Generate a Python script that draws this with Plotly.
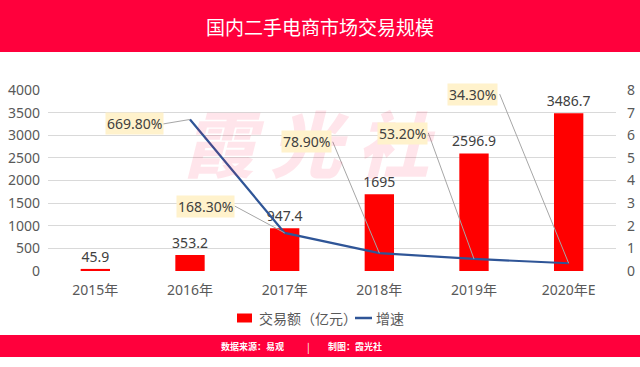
import plotly.graph_objects as go

# ---- data ----
years = ["2015年", "2016年", "2017年", "2018年", "2019年", "2020年E"]
volume = [45.9, 353.2, 947.4, 1695, 2596.9, 3486.7]          # 交易额（亿元）
growth = [None, 6.698, 1.683, 0.789, 0.532, 0.343]            # 增速 (ratio)
growth_labels = [None, "669.80%", "168.30%", "78.90%", "53.20%", "34.30%"]
volume_labels = ["45.9", "353.2", "947.4", "1695", "2596.9", "3486.7"]
series_names = ["交易额（亿元）", "增速"]

# ---- styling / layout constants ----
RED_BANNER = "#FF003C"
BAR_RED = "#FF0000"
LINE_BLUE = "#2F5597"
TXT = "#595959"
FONT = "Noto Sans, Noto Sans CJK SC"
CJK = "Noto Sans CJK SC"
W, H = 640, 367
L, R, T, B = 48, 24, 90, 96
PW, PH = W - L - R, H - T - B

# callout offsets in pixels (box centre / leader start relative to the point), y up positive
label_offsets = {
    1: (-55.5, -4.0, -27.0, -4.5),
    2: (-79.0, 26.6, -50.0, 26.9),
    3: (-72.6, 111.4, -46.6, 111.4),
    4: (-71.5, 125.7, -45.7, 126.0),
    5: (-96.0, 169.0, -69.0, 169.2),
}

fig = go.Figure()
fig.add_trace(go.Bar(
    x=list(range(len(years))), y=volume, name=series_names[0],
    marker=dict(color=BAR_RED, line=dict(width=0)), width=0.31,
    text=volume_labels, textposition="outside", cliponaxis=False, constraintext="none",
    textfont=dict(family=FONT, size=14, color="#404040"), showlegend=False,
))
fig.add_trace(go.Scatter(
    x=list(range(len(years))), y=growth, name=series_names[1], yaxis="y2",
    mode="lines", line=dict(color=LINE_BLUE, width=2.2), connectgaps=False, showlegend=False,
))

shapes = []
annotations = []

px2x = lambda p: (p - L) / PW
px2y = lambda p: (H - B - p) / PH


def paper_text(text, px, py, size, color, family=CJK, xanchor="center", **kw):
    annotations.append(dict(text=text, xref="paper", yref="paper", x=px2x(px), y=px2y(py),
                            xanchor=xanchor, yanchor="middle", showarrow=False,
                            font=dict(family=family, size=size, color=color, **kw)))


# banners
shapes.append(dict(type="rect", xref="paper", yref="paper", x0=px2x(0), x1=px2x(W),
                   y0=px2y(52), y1=px2y(0), fillcolor=RED_BANNER, line=dict(width=0), layer="below"))
shapes.append(dict(type="rect", xref="paper", yref="paper", x0=px2x(0), x1=px2x(W),
                   y0=px2y(357), y1=px2y(335), fillcolor=RED_BANNER, line=dict(width=0), layer="below"))

paper_text("国内二手电商市场交易规模", 320, 26, 19, "white")
paper_text("<b>数据来源：易观</b>", 252, 346, 9, "white")
paper_text("|", 308, 346, 10, "white")
paper_text("<b>制图：霞光社</b>", 355, 346, 9, "white")

# watermark
for ch, cx in zip("霞光社", [224, 310, 396]):
    paper_text(ch, cx, 140, 72, "rgba(255,0,60,0.10)", style="italic", weight=900)

# manual legend
shapes.append(dict(type="rect", xref="paper", yref="paper", x0=px2x(237), x1=px2x(252),
                   y0=px2y(322.5), y1=px2y(313.5), fillcolor=BAR_RED, line=dict(width=0)))
paper_text(series_names[0], 257, 318, 14, TXT, xanchor="left")
shapes.append(dict(type="line", xref="paper", yref="paper", x0=px2x(355), x1=px2x(372),
                   y0=px2y(318), y1=px2y(318), line=dict(color=LINE_BLUE, width=2.5)))
paper_text(series_names[1], 374, 318, 14, TXT, xanchor="left")

# growth callouts
for i, lab in enumerate(growth_labels):
    if lab is None:
        continue
    bx, by, sx, sy = label_offsets[i]
    annotations.append(dict(text=lab, x=i, y=growth[i], xref="x", yref="y2",
                            xanchor="center", yanchor="middle",
                            showarrow=False, xshift=bx, yshift=by,
                            bgcolor="#FFF2CC", borderpad=1,
                            font=dict(family=FONT, size=14, color="#404040")))
    shapes.append(dict(type="line", xref="x", yref="y2",
                       xsizemode="pixel", ysizemode="pixel",
                       xanchor=i, yanchor=growth[i],
                       x0=sx, y0=sy, x1=0, y1=0,
                       line=dict(color="#A6A6A6", width=1)))

fig.update_layout(
    width=W, height=H, margin=dict(l=L, r=R, t=T, b=B, autoexpand=False),
    paper_bgcolor="white", plot_bgcolor="white",
    font=dict(family=FONT, size=14, color=TXT),
    showlegend=False,
    xaxis=dict(tickmode="array", tickvals=list(range(len(years))), ticktext=years,
               range=[-0.5, len(years) - 0.5], showgrid=False, zeroline=False,
               showline=False, ticks="", ticklabelstandoff=9, automargin=False,
               tickfont=dict(family=FONT, size=14, color=TXT)),
    yaxis=dict(range=[0, 4000], dtick=500, showgrid=True, gridcolor="#D9D9D9", gridwidth=1,
               zeroline=False, showline=False, ticks="", ticklabelstandoff=7, automargin=False,
               tickfont=dict(size=14, color=TXT)),
    yaxis2=dict(range=[0, 8], dtick=1, overlaying="y", side="right", showgrid=False,
                zeroline=False, showline=False, ticks="", ticklabelstandoff=10, automargin=False,
                tickfont=dict(size=14, color=TXT)),
    bargap=0.69,
    shapes=shapes, annotations=annotations,
)

fig.write_html("out.html", config={"displayModeBar": False},
               post_script="document.body.style.margin='0';document.body.style.overflow='hidden';")
